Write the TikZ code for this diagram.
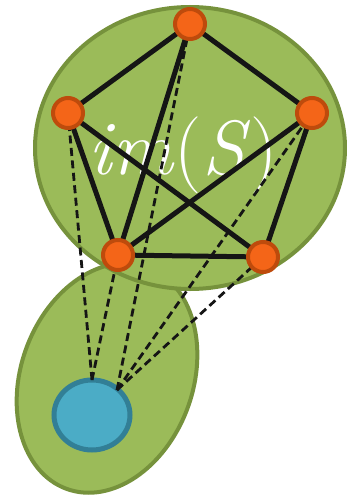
\documentclass[tikz,border=0pt]{standalone}
\usepackage{fontspec}
\usetikzlibrary{shapes.geometric}
\definecolor{gfill}{HTML}{9BBB59}
\definecolor{gline}{HTML}{76923C}
\definecolor{ofill}{HTML}{F46518}
\definecolor{oline}{HTML}{BE4B0C}
\definecolor{bfill}{HTML}{4BACC6}
\definecolor{bline}{HTML}{327F96}
\definecolor{edgec}{HTML}{151515}
\tikzset{
  region/.style={fill=gfill, draw=gline, line width=4pt},
  vert/.style={circle, fill=ofill, draw=oline, line width=4pt, minimum size=30pt, inner sep=0pt},
  blob/.style={ellipse, fill=bfill, draw=bline, line width=5pt, minimum width=76pt, minimum height=70pt, inner sep=0pt},
  edge/.style={draw=edgec, line width=5pt},
  link/.style={draw=edgec, line width=2.8pt, dash pattern=on 8pt off 4.5pt},
  lab/.style={text=white, anchor=base, inner sep=0pt, font=\fontsize{77}{85}\selectfont}
}
\begin{document}
\begin{tikzpicture}[x=1pt, y=-1pt]
\useasboundingbox (0,0) rectangle (347,495);
% regions
\draw[region, rotate around={-20:(107,378)}] (107,378) ellipse (86pt and 118pt);
\draw[region] (190,148) ellipse (155pt and 141pt);
% label
\node[lab] (txt) at (183,174) {\textit{im}(\textit{S})};
% blue circle
\node[blob] (u) at (92,415) {};
\coordinate (pa) at (92,380);
\coordinate (pb) at (117,390);
% vertices
\coordinate (t) at (190,24);
\coordinate (l) at (68,113);
\coordinate (r) at (312,113);
\coordinate (bl) at (118,255);
\coordinate (br) at (263,257);
% solid edges
\draw[edge] (t) -- (l);
\draw[edge] (t) -- (r);
\draw[edge] (t) -- (bl);
\draw[edge] (l) -- (bl);
\draw[edge] (l) -- (br);
\draw[edge] (r) -- (bl);
\draw[edge] (r) -- (br);
\draw[edge] (bl) -- (br);
% dashed links
\draw[link] (pa) -- (l);
\draw[link] (pa) -- (bl);
\draw[link] (pb) -- (t);
\draw[link] (pb) -- (r);
\draw[link] (pb) -- (br);
% vertex nodes
\node[vert] (nt) at (t) {};
\node[vert] (nl) at (l) {};
\node[vert] (nr) at (r) {};
\node[vert] (nbl) at (bl) {};
\node[vert] (nbr) at (br) {};
\end{tikzpicture}
\end{document}
